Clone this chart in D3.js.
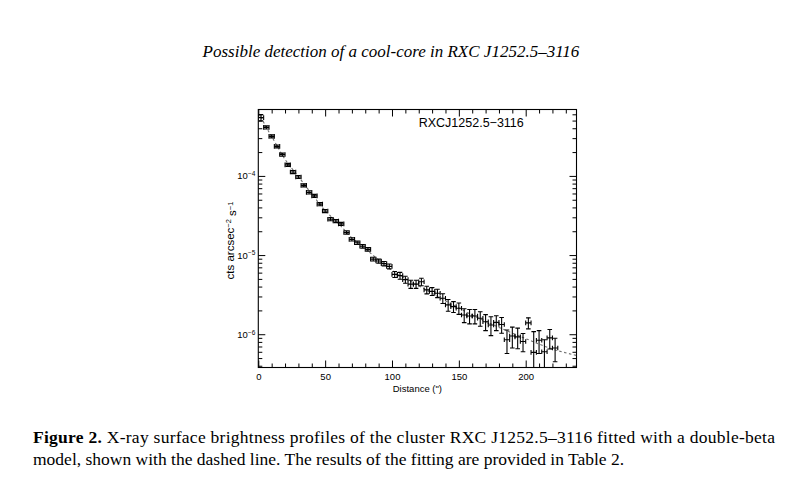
<!DOCTYPE html>
<html lang="en">
<head>
    <meta charset="UTF-8">
    <title>RXC J1252.5-3116 surface brightness profile</title>
    <script src="https://d3js.org/d3.v7.min.js"></script>
    <style>
        body {
            margin: 0;
            background: #fff;
        }

        .axis text {
            font-family: "Liberation Sans", Arial, sans-serif;
            font-size: 9.5px;
            fill: #000;
        }

        .axis path {
            stroke: none;
        }

        .axis line {
            stroke: #000;
            stroke-width: 1;
        }
    </style>
</head>
<body>
    <div id="chart"></div>
    <script>
        // radial bins (arcsec), brightness (cts arcsec^-2 s^-1) and 1-sigma errors
        const distance = [
            2, 6, 10, 14, 18, 22, 26, 30, 34, 38, 42, 46, 50, 54,
            58, 62, 66, 70, 74, 78, 82, 86, 90, 94, 98, 102, 106, 110,
            114, 118, 122, 126, 130, 134, 138, 142, 146, 150, 154, 158, 162, 166,
            170, 174, 178, 182, 186, 190, 194, 198, 202, 206, 210, 214, 218, 222
        ];
        const brightness = [
            5.45e-4, 4.10e-4, 3.16e-4, 2.36e-4, 1.86e-4, 1.38e-4, 1.12e-4, 9.7e-5, 7.6e-5, 6.2e-5, 5.6e-5, 4.4e-5, 3.6e-5, 2.84e-5,
            2.69e-5, 2.48e-5, 1.93e-5, 1.58e-5, 1.43e-5, 1.29e-5, 1.18e-5, 8.9e-6, 8.4e-6, 7.8e-6, 7.2e-6, 5.7e-6, 5.5e-6, 4.9e-6,
            4.3e-6, 4.3e-6, 4.6e-6, 3.63e-6, 3.48e-6, 3.3e-6, 2.85e-6, 2.35e-6, 2.23e-6, 2.13e-6, 1.75e-6, 1.70e-6, 1.70e-6, 1.59e-6,
            1.44e-6, 1.31e-6, 1.41e-6, 1.33e-6, 8.5e-7, 9.5e-7, 9.25e-7, 8.1e-7, 1.39e-6, 5.9e-7, 8.4e-7, 6.0e-7, 9.0e-7, 6.7e-7
        ];
        const brightnessErr = [
            4.9e-5, 1.8e-5, 1.4e-5, 1.0e-5, 8e-6, 6e-6, 5e-6, 4.3e-6, 3.4e-6, 2.8e-6, 2.5e-6, 2.0e-6, 1.6e-6, 1.3e-6,
            1.2e-6, 1.1e-6, 9e-7, 7.5e-7, 7e-7, 6.5e-7, 6e-7, 5e-7, 5e-7, 5e-7, 5e-7, 5e-7, 5.5e-7, 5e-7,
            5e-7, 5e-7, 5e-7, 4e-7, 4e-7, 4e-7, 4e-7, 4e-7, 3.5e-7, 3.5e-7, 3.5e-7, 3.5e-7, 3.5e-7, 3.3e-7,
            3.3e-7, 3.5e-7, 3e-7, 3e-7, 2.8e-7, 2.8e-7, 2.7e-7, 2.1e-7, 2.2e-7, 4.9e-7, 2.7e-7, 2.5e-7, 2.5e-7, 2.2e-7
        ];
        const binHalfWidth = 2;

        // double-beta model
        const modelDistance = [2, 5, 10, 20, 30, 40, 50, 60, 70, 80, 90, 100, 120, 140, 160, 180, 200, 220, 238];
        const modelBrightness = [
            5.6e-4, 4.4e-4, 3.15e-4, 1.62e-4, 9.8e-5, 5.9e-5, 3.65e-5, 2.5e-5, 1.65e-5, 1.2e-5,
            8.7e-6, 6.4e-6, 4.1e-6, 2.65e-6, 1.75e-6, 1.22e-6, 8.8e-7, 6.5e-7, 5.4e-7
        ];

        const xMajorTicks = [0, 50, 100, 150, 200];
        const xMinorTicks = [10, 20, 30, 40, 60, 70, 80, 90, 110, 120, 130, 140, 160, 170, 180, 190, 210, 220, 230];
        const yMajorTicks = [1e-6, 1e-5, 1e-4];
        const yMinorTicks = [
            4e-7, 5e-7, 6e-7, 7e-7, 8e-7, 9e-7,
            2e-6, 3e-6, 4e-6, 5e-6, 6e-6, 7e-6, 8e-6, 9e-6,
            2e-5, 3e-5, 4e-5, 5e-5, 6e-5, 7e-5, 8e-5, 9e-5,
            2e-4, 3e-4, 4e-4, 5e-4, 6e-4
        ];

        const W = 803, H = 486;
        const plot = { left: 258.3, right: 576.5, top: 109.5, bottom: 367.5 };
        const width = plot.right - plot.left;
        const height = plot.bottom - plot.top;

        const svg = d3.select("#chart")
            .append("svg")
            .attr("width", W)
            .attr("height", H)
            .style("display", "block");

        svg.append("rect").attr("width", W).attr("height", H).attr("fill", "#fff");

        // page header
        svg.append("text")
            .attr("x", 391)
            .attr("y", 57)
            .attr("text-anchor", "middle")
            .style("font-family", "'Liberation Serif', 'Times New Roman', serif")
            .style("font-style", "italic")
            .style("font-size", "17px")
            .text("Possible detection of a cool-core in RXC J1252.5–3116");

        const g = svg.append("g")
            .attr("transform", `translate(${plot.left},${plot.top})`);

        const x = d3.scaleLinear().domain([0, 238]).range([0, width]);
        const y = d3.scaleLog().domain([3.8e-7, 6.9e-4]).range([height, 0]);

        g.append("clipPath").attr("id", "clip")
            .append("rect").attr("width", width).attr("height", height);

        // axes: majors with labels, minors without, mirrored on top and right
        const supFormat = function (sel) {
            sel.selectAll(".tick text").each(function (d) {
                const t = d3.select(this);
                const e = Math.round(Math.log10(d));
                t.text("10");
                t.append("tspan")
                    .attr("dy", "-0.5em")
                    .style("font-size", "6.5px")
                    .text("−" + Math.abs(e));
            });
        };

        g.append("g").attr("class", "axis")
            .attr("transform", `translate(0,${height})`)
            .call(d3.axisBottom(x).tickValues(xMajorTicks).tickSize(-7).tickPadding(6).tickFormat(d3.format("d")));
        g.append("g").attr("class", "axis")
            .attr("transform", `translate(0,${height})`)
            .call(d3.axisBottom(x).tickValues(xMinorTicks).tickSize(-4).tickFormat(""));
        g.append("g").attr("class", "axis")
            .call(d3.axisTop(x).tickValues(xMajorTicks).tickSize(-7).tickFormat(""));
        g.append("g").attr("class", "axis")
            .call(d3.axisTop(x).tickValues(xMinorTicks).tickSize(-4).tickFormat(""));

        g.append("g").attr("class", "axis")
            .call(d3.axisLeft(y).tickValues(yMajorTicks).tickSize(-7).tickPadding(3))
            .call(supFormat);
        g.append("g").attr("class", "axis")
            .call(d3.axisLeft(y).tickValues(yMinorTicks).tickSize(-4).tickFormat(""));
        g.append("g").attr("class", "axis")
            .attr("transform", `translate(${width},0)`)
            .call(d3.axisRight(y).tickValues(yMajorTicks).tickSize(-7).tickFormat(""));
        g.append("g").attr("class", "axis")
            .attr("transform", `translate(${width},0)`)
            .call(d3.axisRight(y).tickValues(yMinorTicks).tickSize(-4).tickFormat(""));

        g.append("rect")
            .attr("width", width)
            .attr("height", height)
            .attr("fill", "none")
            .attr("stroke", "#000")
            .attr("stroke-width", 1.1);

        // axis titles
        g.append("text")
            .attr("x", width / 2)
            .attr("y", height + 24)
            .attr("text-anchor", "middle")
            .style("font-family", "'Liberation Sans', Arial, sans-serif")
            .style("font-size", "9.5px")
            .text("Distance (\")");

        const yTitle = g.append("text")
            .attr("transform", `translate(-24,${height / 2 + 2}) rotate(-90)`)
            .attr("text-anchor", "middle")
            .style("font-family", "'Liberation Sans', Arial, sans-serif")
            .style("font-size", "11.5px");
        yTitle.append("tspan").text("cts arcsec");
        yTitle.append("tspan").attr("dy", "-0.45em").style("font-size", "7.5px").text("−2");
        yTitle.append("tspan").attr("dy", "0.45em").text(" s");
        yTitle.append("tspan").attr("dy", "-0.45em").style("font-size", "7.5px").text("−1");

        g.append("text")
            .attr("x", x(120))
            .attr("y", 17.5)
            .style("font-family", "'Liberation Sans', Arial, sans-serif")
            .style("font-size", "12.5px")
            .text("RXCJ1252.5−3116");

        const plotArea = g.append("g").attr("clip-path", "url(#clip)");

        // model curve
        const model = modelDistance.map((d, i) => ({ d: d, v: modelBrightness[i] }));
        plotArea.append("path")
            .datum(model)
            .attr("fill", "none")
            .attr("stroke", "#707070")
            .attr("stroke-width", 1.1)
            .attr("stroke-dasharray", "2.5,2.5")
            .attr("d", d3.line().x(p => x(p.d)).y(p => y(p.v)).curve(d3.curveMonotoneX));

        // data points with error bars
        const points = distance.map((d, i) => ({ d: d, v: brightness[i], e: brightnessErr[i] }));
        const cap = 2.3;
        const pts = plotArea.selectAll("g.pt")
            .data(points)
            .enter().append("g")
            .attr("class", "pt")
            .attr("stroke", "#000")
            .attr("stroke-width", 1.1);

        pts.append("line")
            .attr("x1", p => x(p.d - binHalfWidth)).attr("x2", p => x(p.d + binHalfWidth))
            .attr("y1", p => y(p.v)).attr("y2", p => y(p.v));
        pts.append("line")
            .attr("x1", p => x(p.d - binHalfWidth)).attr("x2", p => x(p.d - binHalfWidth))
            .attr("y1", p => y(p.v) - cap).attr("y2", p => y(p.v) + cap);
        pts.append("line")
            .attr("x1", p => x(p.d + binHalfWidth)).attr("x2", p => x(p.d + binHalfWidth))
            .attr("y1", p => y(p.v) - cap).attr("y2", p => y(p.v) + cap);

        const lowY = p => (p.v - p.e > 0 ? y(Math.max(p.v - p.e, 1e-8)) : height + 10);
        pts.append("line")
            .attr("x1", p => x(p.d)).attr("x2", p => x(p.d))
            .attr("y1", p => y(p.v + p.e)).attr("y2", lowY);
        pts.append("line")
            .attr("x1", p => x(p.d) - cap).attr("x2", p => x(p.d) + cap)
            .attr("y1", p => y(p.v + p.e)).attr("y2", p => y(p.v + p.e));
        pts.append("line")
            .attr("x1", p => x(p.d) - cap).attr("x2", p => x(p.d) + cap)
            .attr("y1", lowY).attr("y2", lowY);

        // figure caption
        const capFont = "'Liberation Serif', 'Times New Roman', serif";
        const line1 = svg.append("text")
            .attr("x", 33)
            .attr("y", 443)
            .attr("textLength", 742)
            .attr("lengthAdjust", "spacing")
            .style("font-family", capFont)
            .style("font-size", "17.5px");
        line1.append("tspan").style("font-weight", "bold").text("Figure 2.");
        line1.append("tspan").text("  X-ray surface brightness profiles of the cluster RXC J1252.5–3116 fitted with a double-beta");

        svg.append("text")
            .attr("x", 33)
            .attr("y", 465)
            .style("font-family", capFont)
            .style("font-size", "17.5px")
            .text("model, shown with the dashed line. The results of the fitting are provided in Table 2.");
    </script>
</body>
</html>
